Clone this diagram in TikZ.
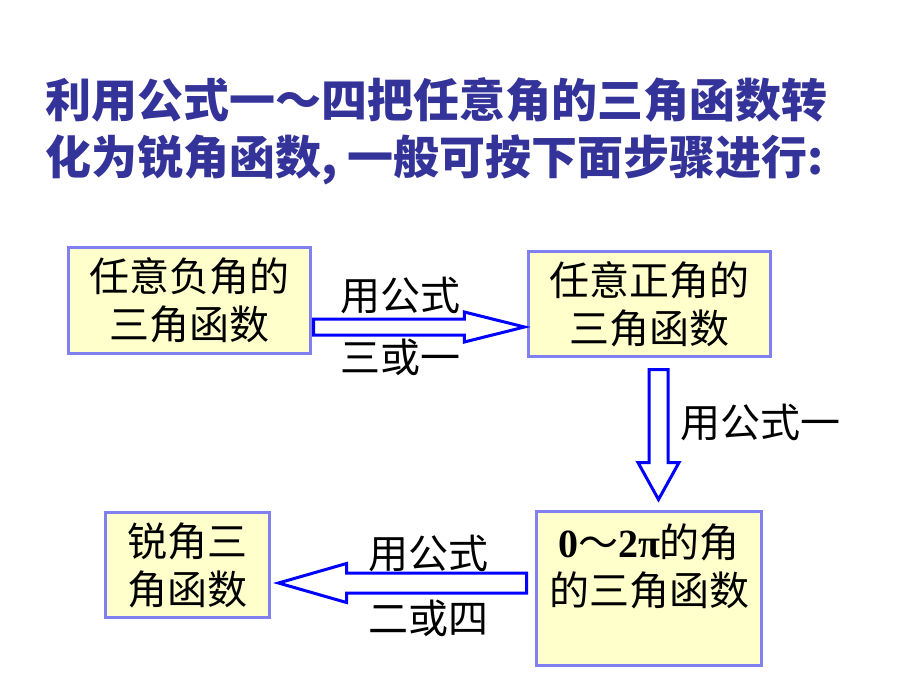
\documentclass[tikz,border=0pt]{standalone}
\usepackage{fontspec}
\usetikzlibrary{shapes.arrows,positioning}
\newfontfamily\cjk{Noto Sans CJK SC}
\newfontfamily\numfont{Liberation Serif}
\definecolor{titleblue}{RGB}{51,51,153}
\definecolor{boxline}{RGB}{128,128,240}
\definecolor{boxfill}{RGB}{255,255,204}
\definecolor{arrowblue}{RGB}{0,0,255}
\tikzset{
  stepbox/.style={draw=boxline, fill=boxfill, line width=3pt, align=center,
    inner sep=0pt, font=\cjk\fontsize{40}{48}\selectfont},
  steptext/.style={inner sep=0pt, font=\cjk\fontsize{40}{48}\selectfont},
  hollow/.style={single arrow, draw=arrowblue, fill=white, line width=3pt,
    inner xsep=0pt, single arrow head indent=0pt}
}
\begin{document}
\begin{tikzpicture}[x=1pt, y=-1pt]
\useasboundingbox (0,0) rectangle (920,690);

% title
\node (title) at (45,131) [anchor=west, align=left, text=titleblue,
  font=\cjk\bfseries\fontsize{46}{57}\selectfont, inner sep=0pt]
  {利用公式一～四把任意角的三角函数转\\化为锐角函数, 一般可按下面步骤进行:};

% steps
\node (neg) at (189.5,300.5) [stepbox, minimum width=242, minimum height=106] {任意负角的\\三角函数};
\node (pos) at (649.5,304) [stepbox, minimum width=242, minimum height=105] {任意正角的\\三角函数};
\node (full) at (649,588.5) [stepbox, minimum width=225, minimum height=154]
  {{\numfont\bfseries 0}～{\numfont\bfseries 2π}的角\\的三角函数\\\mbox{}};
\node (acute) at (187.5,565) [stepbox, minimum width=164, minimum height=105] {锐角三\\角函数};

% arrows
\node (arrA) at ([yshift=-26.5]neg.east) [hollow, anchor=tail, minimum height=211,
  inner ysep=6.5, single arrow head extend=7, single arrow tip angle=28] {};
\node (arrB) at ([xshift=9, yshift=-10]pos.south) [hollow, anchor=tail, rotate=-90,
  minimum height=130, inner ysep=8, single arrow head extend=11, single arrow tip angle=58] {};
\node (arrC) at ([xshift=-7, yshift=5.5]full.west) [hollow, anchor=tail, rotate=180,
  minimum height=248, inner ysep=8.5, single arrow head extend=9.5, single arrow tip angle=32] {};

% arrow texts
\node (tA1) at (400,295) [steptext] {用公式};
\node (tA2) at (400,357) [steptext] {三或一};
\node (tB) at (680,422) [steptext, anchor=west] {用公式一};
\node (tC1) at (428,553) [steptext] {用公式};
\node (tC2) at (428,618) [steptext] {二或四};
\end{tikzpicture}
\end{document}
